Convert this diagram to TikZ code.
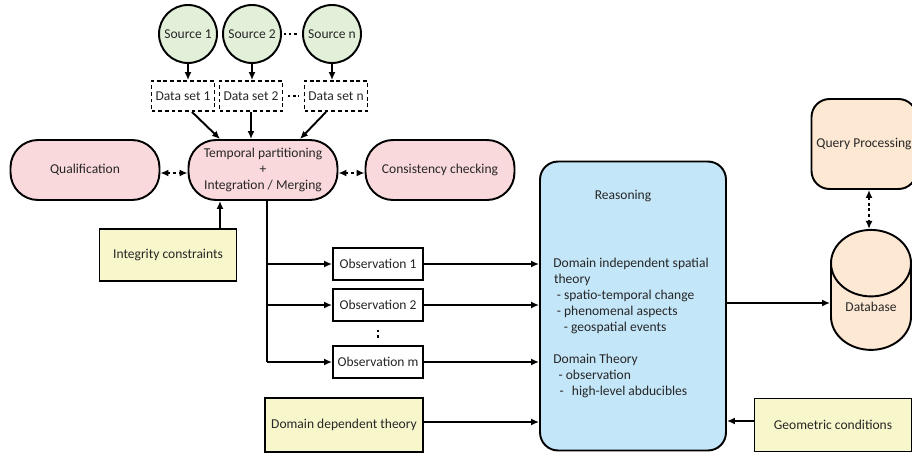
\documentclass[tikz,border=0pt]{standalone}
\usepackage{fontspec}
\setmainfont{Carlito}
\usetikzlibrary{arrows.meta,shapes.geometric,calc}

\definecolor{srcgreen}{HTML}{E2EFD9}
\definecolor{mergepink}{HTML}{FAD9DC}
\definecolor{inputyellow}{HTML}{F8F6CB}
\definecolor{reasonblue}{HTML}{C3E6F8}
\definecolor{dbpeach}{HTML}{FDE8D3}

\begin{document}
\begin{tikzpicture}[
    x=0.02cm, y=-0.02cm,
    font=\fontsize{7.7}{9.1}\selectfont,
    every node/.style={inner sep=0pt, text=black!85},
    box/.style={draw, line width=1.1pt},
    source/.style={box, circle, fill=srcgreen, minimum size=1.16cm},
    dataset/.style={draw, line width=1.1pt, dash pattern=on 2.2pt off 1.6pt, minimum width=1.26cm, minimum height=0.6cm},
    process/.style={box, rounded corners=0.55cm, fill=mergepink, minimum width=2.98cm, minimum height=1.2cm, align=center},
    given/.style={box, fill=inputyellow, minimum height=1.06cm},
    obsbox/.style={box, fill=white, minimum width=1.8cm, minimum height=0.64cm},
    arr/.style={line width=1.1pt, -{Latex[length=1.6mm,width=1.4mm]}},
    both/.style={line width=1.1pt, dash pattern=on 1.6pt off 1.6pt, {Latex[length=1.6mm,width=1.4mm]}-{Latex[length=1.6mm,width=1.4mm]}},
    dots/.style={line width=1.4pt, dash pattern=on 1.4pt off 1.6pt}
]
    \useasboundingbox (0,0) rectangle (912,453);

    % Sources and their data sets
    \node[source] (src1) at (188,34) {Source 1};
    \node[source] (src2) at (252,34) {Source 2};
    \node[source] (srcn) at (332,34) {Source n};
    \node[dataset] (ds1) at (183,96) {Data set 1};
    \node[dataset] (ds2) at (251,96) {Data set 2};
    \node[dataset] (dsn) at (336,96) {Data set n};

    \draw[arr] (src1) -- (src1 |- ds1.north);
    \draw[arr] (src2) -- (src2 |- ds2.north);
    \draw[arr] (srcn) -- (srcn |- dsn.north);
    \draw[dots, shorten <=1pt, shorten >=2.5pt] (src2.east) -- (srcn.west);
    \draw[dots, shorten <=2.5pt, shorten >=2.5pt] (ds2.east) -- (dsn.west);

    % Merging step with its two neighbours
    \node[process] (merge) at (263,170) {Temporal partitioning\\+\\Integration / Merging};
    \node[process] (qual) at (85,170) {Qualification};
    \node[process] (cons) at (440,170) {Consistency checking};

    \draw[arr] ($(ds1.south)+(9,0)$) -- ($(merge.north)+(-43,0)$);
    \draw[arr] (ds2.south) -- (ds2.south |- merge.north);
    \draw[arr] ($(dsn.south)+(-10,0)$) -- ($(merge.north)+(37,0)$);
    \draw[both] (qual.east |- 0,173) -- (merge.west |- 0,173);
    \draw[both] (merge.east |- 0,173) -- (cons.west |- 0,173);

    \node[given, minimum width=2.74cm, minimum height=1.04cm] (integ) at (168,255) {Integrity constraints};
    \draw[arr] (integ.north -| 220,0) -- (merge.south -| 220,0);

    % Observations
    \node[obsbox] (obs1) at (378,264) {Observation 1};
    \node[obsbox] (obs2) at (378,305) {Observation 2};
    \node[obsbox] (obsm) at (378,362) {Observation m};
    \draw[dots, shorten <=4.5pt, shorten >=2.8pt] (obs2.south) -- (obsm.north);

    \coordinate (bus) at (267,362);
    \draw[line width=1.1pt] (merge.south -| bus) -- (bus);
    \foreach \o in {obs1,obs2,obsm}
        \draw[arr] (\o.west -| bus) -- (\o.west);

    \node[given, minimum width=3.16cm, minimum height=1.08cm] (domdep) at (344,425) {Domain dependent theory};
    \node[given, minimum width=3.14cm] (geom) at (833,425) {Geometric conditions};

    % Reasoning
    \node[box, rounded corners=0.36cm, fill=reasonblue, minimum width=3.72cm, minimum height=5.78cm] (reason) at (633,306) {};
    \node (reasontitle) at (623,196) {Reasoning};
    \node[anchor=north west, align=left] (reasonbody) at (553,258) {%
        Domain independent spatial\\
        \hspace{0.4pt}theory\\
        \hspace{2pt}- spatio-temporal change\\
        \hspace{2pt}- phenomenal aspects\\
        \hspace{6pt}- geospatial events\\[9.1pt]
        Domain Theory\\
        \hspace{3pt}- observation\\
        \hspace{3.5pt}-\hspace{3pt} high-level abducibles};

    \draw[arr] (obs1.east) -- (reason.west |- obs1.east);
    \draw[arr] (obs2.east) -- (reason.west |- obs2.east);
    \draw[arr] (obsm.east) -- (reason.west |- obsm.east);
    \draw[arr] (domdep.east |- 0,422) -- (reason.west |- 0,422);
    \draw[arr] (geom.west |- 0,421) -- (reason.east |- 0,421);

    % Storage and queries
    \node[box, cylinder, shape border rotate=90, aspect=1.3, fill=dbpeach, minimum width=1.6cm, minimum height=2.4cm] (db) at (871,307) {Database};
    \node[box, rounded corners=0.36cm, fill=dbpeach, minimum width=2.1cm, minimum height=1.8cm] (query) at (864,144) {Query Processing};

    \draw[arr] (reason.east |- 0,303) -- (db.west |- 0,303);
    \draw[both] (query.south -| 869,0) -- (db.north -| 869,0);
\end{tikzpicture}
\end{document}
